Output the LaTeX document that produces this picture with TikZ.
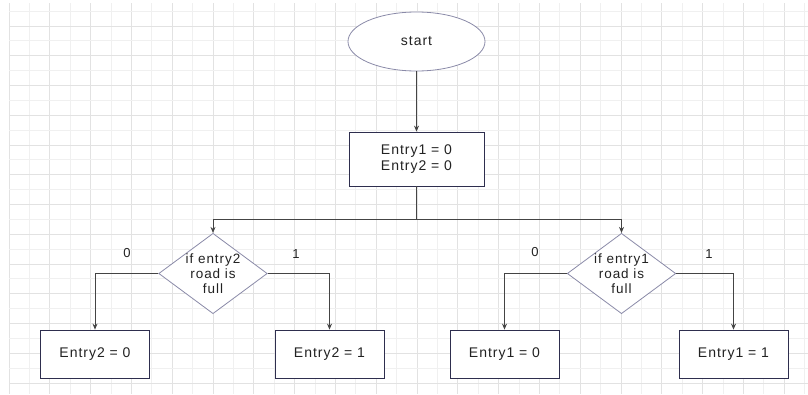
\documentclass[tikz,border=0pt]{standalone}
\usepackage{fontspec}
\setmainfont{Liberation Sans}[LetterSpace=7]
\usetikzlibrary{shapes.geometric,arrows.meta}
\definecolor{gridminor}{HTML}{F0F0F0}
\definecolor{gridmajor}{HTML}{E2E2E2}
\definecolor{softedge}{HTML}{8A8AA8}
\definecolor{boxedge}{HTML}{2E2E4E}
\definecolor{wire}{HTML}{444444}
\definecolor{ink}{HTML}{222222}
\begin{document}
\begin{tikzpicture}[x=1pt,y=-1pt,
  startsh/.style={ellipse,draw=softedge,fill=white,line width=0.8pt,minimum width=137pt,minimum height=59pt,inner sep=0pt,text=ink,font=\fontsize{14}{16}\selectfont},
  boxsh/.style={rectangle,draw=boxedge,fill=white,line width=0.8pt,minimum width=135pt,minimum height=54pt,inner sep=0pt,align=center,text=ink,font=\fontsize{14}{16}\selectfont},
  outsh/.style={rectangle,draw=boxedge,fill=white,line width=0.8pt,minimum width=109pt,minimum height=48pt,inner sep=0pt,text=ink,font=\fontsize{14}{16}\selectfont},
  decsh/.style={diamond,draw=softedge,fill=white,line width=0.8pt,minimum width=108pt,minimum height=80pt,aspect=1.35,inner sep=0pt,align=center,text=ink,font=\fontsize{13.5}{15}\selectfont},
  lbl/.style={font=\fontsize{13}{15}\selectfont,inner sep=0pt,text=ink},
  wireln/.style={draw=wire,line width=0.8pt},
  arr/.style={wireln,-{Stealth[length=6pt,width=5pt]}}]
\fill[white] (0,0) rectangle (808,394);
\useasboundingbox (0,0) rectangle (808,394);
% grid
\foreach \k in {0,...,39}{
  \pgfmathsetmacro{\gx}{9+20.4*\k}
  \pgfmathtruncatemacro{\odd}{mod(\k,2)}
  \ifnum\odd=0 \draw[gridmajor,line width=0.7pt] (\gx,3) -- (\gx,394);
  \else \draw[gridminor,line width=0.7pt] (\gx,3) -- (\gx,394); \fi
}
\foreach \k in {0,...,25}{
  \pgfmathsetmacro{\gy}{11+14.88*\k}
  \pgfmathtruncatemacro{\odd}{mod(\k,2)}
  \ifnum\odd=0 \draw[gridminor,line width=0.7pt] (9,\gy) -- (808,\gy);
  \else \draw[gridmajor,line width=0.7pt] (9,\gy) -- (808,\gy); \fi
}
% nodes
\node[startsh] (start) at (416.5,41.5) {start};
\node[boxsh] (init) at (416.5,159) {Entry1 = 0\\Entry2 = 0};
\node[decsh] (d2) at (213,273.5) {if entry2\\road is\\full};
\node[decsh] (d1) at (621.5,273.5) {if entry1\\road is\\full};
\node[outsh] (e20) at (95,354) {Entry2 = 0};
\node[outsh] (e21) at (329.5,354) {Entry2 = 1};
\node[outsh] (e10) at (504.5,354) {Entry1 = 0};
\node[outsh] (e11) at (733.5,354) {Entry1 = 1};
\coordinate (split) at (416.5,219.5);
% labels
\node[lbl] (l20) at (127,253) {0};
\node[lbl] (l21) at (296,254) {1};
\node[lbl] (l10) at (535,252) {0};
\node[lbl] (l11) at (709,254) {1};
% connectors
\draw[arr] (start) -- (init);
\draw[wireln] (init) -- (split);
\draw[arr] (split) -| (d2.north);
\draw[arr] (split) -| (d1.north);
\draw[arr] (d2.west) -| (e20.north);
\draw[arr] (d2.east) -| (e21.north);
\draw[arr] (d1.west) -| (e10.north);
\draw[arr] (d1.east) -| (e11.north);
\end{tikzpicture}
\end{document}
